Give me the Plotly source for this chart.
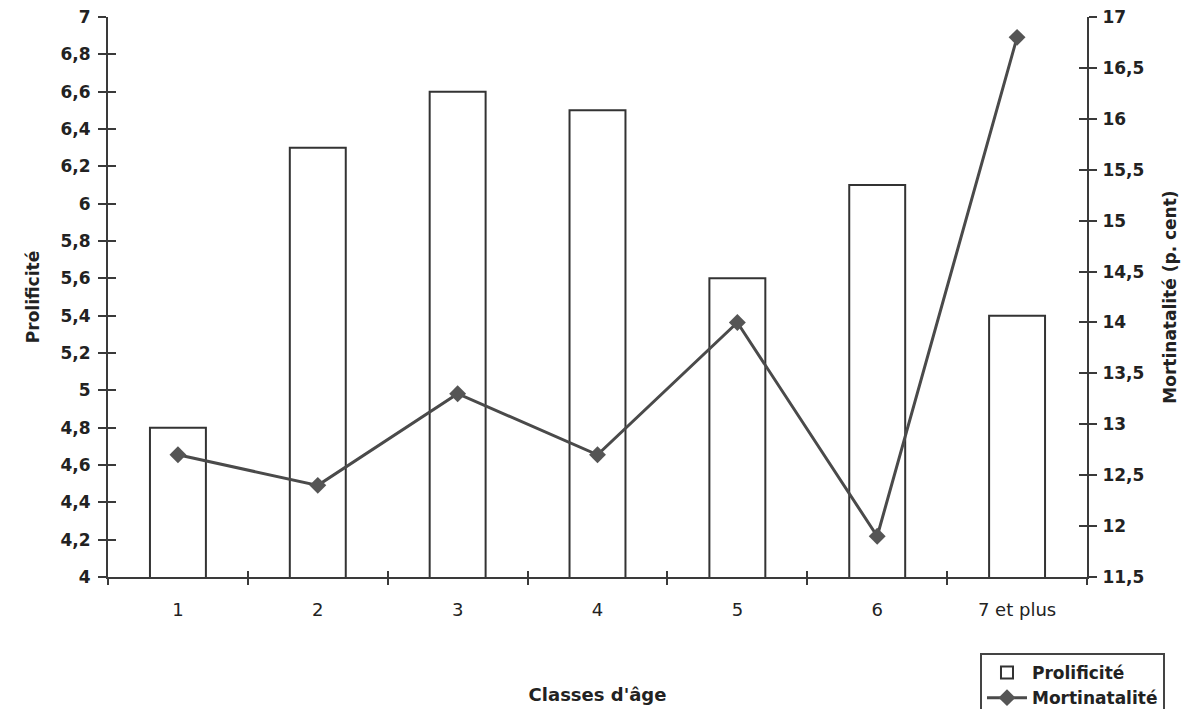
import plotly.graph_objects as go

categories = ["1", "2", "3", "4", "5", "6", "7 et plus"]
prolificite = [4.8, 6.3, 6.6, 6.5, 5.6, 6.1, 5.4]
mortinatalite = [12.7, 12.4, 13.3, 12.7, 14.0, 11.9, 16.8]

left_ticks = [4.0, 4.2, 4.4, 4.6, 4.8, 5.0, 5.2, 5.4, 5.6, 5.8, 6.0, 6.2, 6.4, 6.6, 6.8, 7.0]
left_labels = ["4", "4,2", "4,4", "4,6", "4,8", "5", "5,2", "5,4", "5,6", "5,8",
               "6", "6,2", "6,4", "6,6", "6,8", "7"]
right_ticks = [11.5, 12.0, 12.5, 13.0, 13.5, 14.0, 14.5, 15.0, 15.5, 16.0, 16.5, 17.0]
right_labels = ["11,5", "12", "12,5", "13", "13,5", "14", "14,5", "15", "15,5", "16", "16,5", "17"]

AX = "#3a3a3a"
FONT = "DejaVu Sans, Liberation Sans, Arial, sans-serif"

fig = go.Figure()
fig.add_trace(go.Bar(
    x=categories, y=prolificite, name="Prolificité",
    marker=dict(color="white", line=dict(color="#333333", width=2)),
    xaxis="x", yaxis="y",
))
fig.add_trace(go.Scatter(
    x=categories, y=mortinatalite, name="Mortinatalité",
    mode="lines+markers",
    line=dict(color="#4a4a4a", width=3),
    marker=dict(symbol="diamond", size=13, color="#555555"),
    xaxis="x", yaxis="y2",
))
# invisible helper traces so overlay axes draw inward ticks
fig.add_trace(go.Scatter(x=categories, y=prolificite, xaxis="x2", yaxis="y3",
                         mode="markers", marker=dict(opacity=0), showlegend=False, hoverinfo="skip"))
fig.add_trace(go.Scatter(x=categories, y=mortinatalite, xaxis="x2", yaxis="y4",
                         mode="markers", marker=dict(opacity=0), showlegend=False, hoverinfo="skip"))

common_x = dict(type="category", categoryorder="array", categoryarray=categories,
                range=[-0.5, 6.5], tickson="boundaries", ticklen=6, tickwidth=2,
                tickcolor=AX, showgrid=False, zeroline=False, automargin=False)

fig.update_layout(
    width=1181, height=701,
    margin=dict(l=100, r=102, t=9, b=132, autoexpand=False),
    paper_bgcolor="white", plot_bgcolor="white",
    bargap=0.6,
    font=dict(family=FONT, color="#222222"),
    xaxis=dict(**common_x, ticks="outside", showline=True, linecolor=AX, linewidth=2,
               tickfont=dict(size=18, color="#222222"), ticklabelstandoff=15,
               title=dict(text="Classes d'âge", font=dict(size=18, weight="bold"), standoff=70)),
    xaxis2=dict(**common_x, ticks="inside", overlaying="x", anchor="y", side="bottom",
                showticklabels=False, showline=False),
    yaxis=dict(range=[4, 7], tickvals=left_ticks, ticktext=left_labels,
               ticks="outside", ticklen=8, tickwidth=2, tickcolor=AX, automargin=False,
               showline=True, linecolor=AX, linewidth=2, showgrid=False, zeroline=False,
               ticklabeloverflow="allow",
               tickfont=dict(size=17, weight="bold", color="#222222"), ticklabelstandoff=4,
               title=dict(text="Prolificité", font=dict(size=17, weight="bold"), standoff=17)),
    yaxis3=dict(range=[4, 7], tickvals=left_ticks, ticks="inside", ticklen=8, tickwidth=2,
                tickcolor=AX, overlaying="y", side="left", anchor="x", automargin=False,
                showticklabels=False, showgrid=False, zeroline=False),
    yaxis2=dict(range=[11.5, 17], tickvals=right_ticks, ticktext=right_labels,
                overlaying="y", side="right", anchor="x", automargin=False,
                ticks="outside", ticklen=8, tickwidth=2, tickcolor=AX,
                showline=True, linecolor=AX, linewidth=2, showgrid=False, zeroline=False,
                ticklabeloverflow="allow",
                tickfont=dict(size=17, weight="bold", color="#222222"), ticklabelstandoff=2,
                title=dict(text="Mortinatalité (p. cent)", font=dict(size=17, weight="bold"), standoff=21)),
    yaxis4=dict(range=[11.5, 17], tickvals=right_ticks, ticks="inside", ticklen=8, tickwidth=2,
                tickcolor=AX, overlaying="y", side="right", anchor="x", automargin=False,
                showticklabels=False, showgrid=False, zeroline=False),
    legend=dict(x=0.8907, y=-0.1357, xanchor="left", yanchor="top",
                bordercolor="#444444", borderwidth=2, bgcolor="white",
                font=dict(size=17, weight="bold", color="#222222"),
                tracegroupgap=0, itemwidth=40),
    showlegend=True,
)

fig.write_html("out.html")
